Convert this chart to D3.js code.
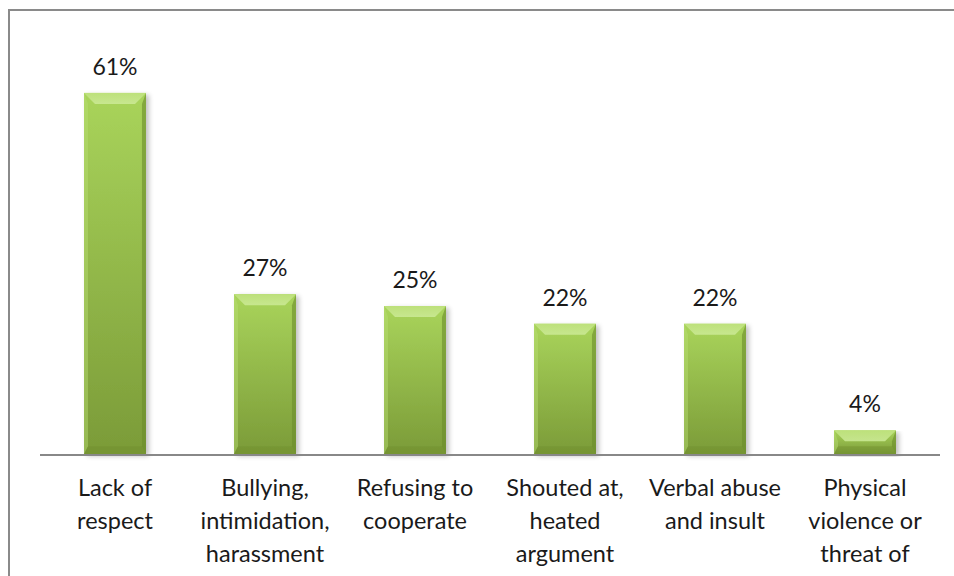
<!DOCTYPE html>
<html><head><meta charset="utf-8">
<script src="https://cdn.jsdelivr.net/npm/d3@7"></script>
<style>
html,body{margin:0;padding:0;background:#fff;overflow:hidden}
svg{display:block}
text{font-family:Lato,"Open Sans",sans-serif;fill:#1a1a1a}
</style></head>
<body>
<svg id="chart" width="954" height="576"></svg>
<script>
const categories = ["Lack of respect","Bullying, intimidation, harassment","Refusing to cooperate","Shouted at, heated argument","Verbal abuse and insult","Physical violence or threat of"];
const tickLines = [["Lack of","respect"],["Bullying,","intimidation,","harassment"],["Refusing to","cooperate"],["Shouted at,","heated","argument"],["Verbal abuse","and insult"],["Physical","violence or","threat of"]];
const values = [61,27,25,22,22,4];
const valueLabels = ["61%","27%","25%","22%","22%","4%"];

const svg = d3.select("#chart");
const W = 954, H = 576;
const margin = {left:40, right:14, top:40, bottom:122};
const x = d3.scaleBand().domain(categories).range([margin.left, W - margin.right]).paddingInner(0.587).paddingOuter(0.2935);
const y = d3.scaleLinear().domain([0,70]).range([H - margin.bottom, H - margin.bottom - 70*5.92]);

// frame
svg.append("rect").attr("x",9).attr("y",10).attr("width",W+20).attr("height",H+20)
  .attr("fill","none").attr("stroke","#8a8a8a").attr("stroke-width",2);

const defs = svg.append("defs");
const g1 = defs.append("linearGradient").attr("id","gMain").attr("x1",0).attr("y1",0).attr("x2",0).attr("y2",1);
g1.append("stop").attr("offset","0%").attr("stop-color","#a9d45b");
g1.append("stop").attr("offset","100%").attr("stop-color","#7b9b38");
const gt = defs.append("linearGradient").attr("id","gTop").attr("x1",0).attr("y1",0).attr("x2",0).attr("y2",1);
gt.append("stop").attr("offset","0%").attr("stop-color","#bfe27e");
gt.append("stop").attr("offset","100%").attr("stop-color","#cbe995");
const gsf = defs.append("filter").attr("id","shadow").attr("x","-20%").attr("y","-5%").attr("width","150%").attr("height","115%");
gsf.append("feGaussianBlur").attr("in","SourceAlpha").attr("stdDeviation",2.5);
gsf.append("feOffset").attr("dx",3).attr("dy",2).attr("result","b");
gsf.append("feComponentTransfer").append("feFuncA").attr("type","linear").attr("slope",0.25);
const fm = gsf.append("feMerge"); fm.append("feMergeNode"); fm.append("feMergeNode").attr("in","SourceGraphic");

const bw = x.bandwidth();
const bev = 11;
const bars = svg.append("g").selectAll("g").data(categories).join("g");
bars.each(function(c,i){
  const g = d3.select(this);
  const x0 = x(c), x1 = x0 + bw, y0 = y(values[i]), y1 = y(0);
  const b = Math.min(bev, (y1-y0)/2);
  const s = 4;
  g.append("rect").attr("x",x0).attr("y",y0).attr("width",bw).attr("height",y1-y0)
    .attr("fill","url(#gMain)").attr("filter","url(#shadow)");
  // top bevel
  g.append("path").attr("d",`M${x0},${y0}L${x1},${y0}L${x1-b},${y0+b}L${x0+b},${y0+b}Z`)
    .attr("fill","url(#gTop)").attr("opacity",0.9);
  // left bevel
  g.append("path").attr("d",`M${x0},${y0}L${x0+s},${y0+b}L${x0+s},${y1-b*0.7}L${x0},${y1}Z`)
    .attr("fill","#b8de73").attr("opacity",0.45);
  // right bevel
  g.append("path").attr("d",`M${x1},${y0}L${x1-s},${y0+b}L${x1-s},${y1-b*0.7}L${x1},${y1}Z`)
    .attr("fill","#6a8c2c").attr("opacity",0.6);
  // bottom bevel
  g.append("path").attr("d",`M${x0},${y1}L${x0+s},${y1-b*0.7}L${x1-s},${y1-b*0.7}L${x1},${y1}Z`)
    .attr("fill","#6d8d2e").attr("opacity",0.4);
});

// value labels
svg.append("g").selectAll("text").data(categories).join("text")
  .attr("x",c=>x(c)+bw/2).attr("y",(c,i)=>y(values[i])-18)
  .attr("text-anchor","middle").attr("font-size",23).text((c,i)=>valueLabels[i]);

// x axis
const xAxis = d3.axisBottom(x).tickSize(0).tickFormat("");
const ax = svg.append("g").attr("transform",`translate(0,${y(0)+1})`).call(xAxis);
ax.select(".domain").attr("stroke","#888").attr("stroke-width",2).attr("d",`M${margin.left},0H${W-margin.right}`);
ax.selectAll(".tick").each(function(c,i){
  const t = d3.select(this).append("text").attr("text-anchor","middle").attr("font-size",23.5).attr("fill","#1a1a1a");
  tickLines[i].forEach((ln,j)=>{
    t.append("tspan").attr("x",0).attr("y",41 + j*33).text(ln);
  });
});
</script>
</body></html>
